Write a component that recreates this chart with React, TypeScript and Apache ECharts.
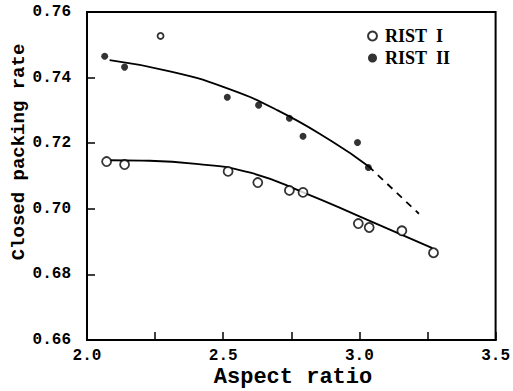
import React, { useEffect, useRef } from "react";
import * as echarts from "echarts";

// RIST I (open circles)
const rist1X = [2.072, 2.138, 2.518, 2.627, 2.743, 2.793, 2.996, 3.036, 3.156, 3.272];
const rist1Y = [0.7144, 0.7135, 0.7114, 0.708, 0.7056, 0.705, 0.6955, 0.6943, 0.6933, 0.6866];
// RIST II (filled circles)
const rist2X = [2.065, 2.138, 2.515, 2.63, 2.743, 2.793, 2.993, 3.033];
const rist2Y = [0.7465, 0.7432, 0.734, 0.7316, 0.7276, 0.7221, 0.7202, 0.7126];
// stray mark near top
const strayX = [2.27];
const strayY = [0.7527];
// fitted curves
const fit1X = [2.083, 2.2, 2.4, 2.6, 2.8, 3.0, 3.268];
const fit1Y = [0.7148, 0.7147, 0.7137, 0.711, 0.7048, 0.6977, 0.688];
const fit2X = [2.083, 2.3, 2.5, 2.7, 2.9, 3.033];
const fit2Y = [0.7453, 0.742, 0.7372, 0.73, 0.7205, 0.713];
const fit2DashX = [3.033, 3.2185];
const fit2DashY = [0.713, 0.6985];

const xTicks = { min: 2.0, max: 3.5, interval: 0.25 };
const yTicks = { min: 0.66, max: 0.76, interval: 0.02 };

const zip = (xs: number[], ys: number[]) => xs.map((x, i) => [x, ys[i]]);

export default function App() {
  const ref = useRef<HTMLDivElement>(null);
  useEffect(() => {
    if (!ref.current) return;
    const chart = echarts.init(ref.current, null, { renderer: "svg" });
    const tickFont = {
      fontFamily: "Liberation Mono",
      fontWeight: "bold" as const,
      fontSize: 16,
      color: "#000",
    };
    chart.setOption({
      animation: false,
      backgroundColor: "#fff",
      grid: {
        left: 87,
        right: 12,
        top: 12,
        bottom: 51,
        show: true,
        borderColor: "#000",
        borderWidth: 2,
      },
      xAxis: {
        type: "value",
        min: xTicks.min,
        max: xTicks.max,
        interval: xTicks.interval,
        axisLine: { lineStyle: { color: "#000", width: 2 } },
        axisTick: { inside: true, length: 8, lineStyle: { color: "#000", width: 1.5 } },
        splitLine: { show: false },
        axisLabel: {
          ...tickFont,
          margin: 8,
          formatter: (v: number) =>
            Math.abs(v * 2 - Math.round(v * 2)) < 1e-6 ? v.toFixed(1) : "",
        },
      },
      yAxis: {
        type: "value",
        min: yTicks.min,
        max: yTicks.max,
        interval: yTicks.interval,
        axisLine: { lineStyle: { color: "#000", width: 2 } },
        axisTick: { inside: true, length: 8, lineStyle: { color: "#000", width: 1.5 } },
        splitLine: { show: false },
        axisLabel: {
          ...tickFont,
          margin: 16,
          formatter: (v: number) => v.toFixed(2),
        },
      },
      legend: {
        orient: "vertical",
        left: 362,
        top: 22,
        itemGap: 4,
        itemWidth: 9,
        itemHeight: 9,
        data: ["RIST\u00a0\u00a0I", "RIST\u00a0\u00a0II"],
        textStyle: {
          fontFamily: "Liberation Serif",
          fontWeight: "bold",
          fontSize: 18,
          color: "#000",
          padding: [0, 0, 0, 3],
        },
      },
      graphic: [
        {
          type: "text",
          x: 19,
          y: 152,
          rotation: Math.PI / 2,
          style: {
            text: "Closed packing rate",
            fontFamily: "Liberation Mono",
            fontWeight: "bold",
            fontSize: 19,
            fill: "#000",
            textAlign: "center",
            textVerticalAlign: "middle",
          },
        },
        {
          type: "text",
          x: 293,
          y: 377,
          style: {
            text: "Aspect ratio",
            fontFamily: "Liberation Mono",
            fontWeight: "bold",
            fontSize: 22,
            fill: "#000",
            textAlign: "center",
            textVerticalAlign: "middle",
          },
        },
      ],
      series: [
        {
          type: "line",
          data: zip(fit1X, fit1Y),
          smooth: true,
          showSymbol: false,
          symbol: "none",
          lineStyle: { color: "#000", width: 1.8 },
          silent: true,
        },
        {
          type: "line",
          data: zip(fit2X, fit2Y),
          smooth: true,
          showSymbol: false,
          symbol: "none",
          lineStyle: { color: "#000", width: 1.8 },
          silent: true,
        },
        {
          type: "line",
          data: zip(fit2DashX, fit2DashY),
          showSymbol: false,
          symbol: "none",
          lineStyle: { color: "#000", width: 1.8, type: [7, 6] },
          silent: true,
        },
        {
          name: "RIST\u00a0\u00a0I",
          type: "scatter",
          data: zip(rist1X, rist1Y),
          symbol: "circle",
          symbolSize: 9,
          itemStyle: { color: "#fff", borderColor: "#000", borderWidth: 1.8 },
          z: 5,
        },
        {
          name: "RIST\u00a0\u00a0II",
          type: "scatter",
          data: zip(rist2X, rist2Y),
          symbol: "circle",
          symbolSize: 7,
          itemStyle: { color: "#000" },
          z: 5,
        },
        {
          type: "scatter",
          data: zip(strayX, strayY),
          symbol: "circle",
          symbolSize: 6,
          itemStyle: { color: "#fff", borderColor: "#000", borderWidth: 1.8 },
          z: 5,
        },
      ],
    });
    return () => chart.dispose();
  }, []);
  return (
    <div
      ref={ref}
      style={{ position: "fixed", left: 0, top: 0, width: 513, height: 391 }}
    />
  );
}
